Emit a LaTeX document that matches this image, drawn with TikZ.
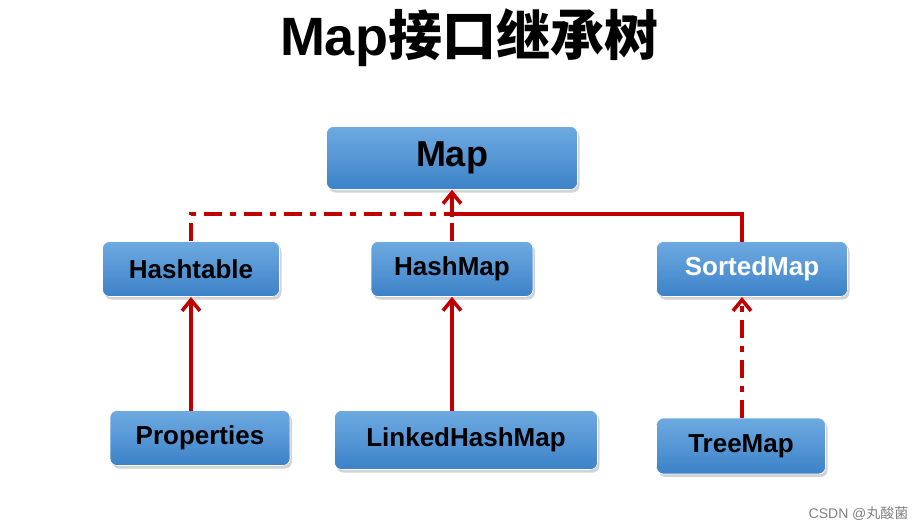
\documentclass[tikz,border=0pt]{standalone}
\usepackage{fontspec}
\setmainfont{Liberation Sans}
\newfontfamily\cjk{Noto Sans CJK SC}
\usetikzlibrary{arrows.meta,shadows}
\definecolor{lred}{RGB}{192,0,0}
\definecolor{bt}{RGB}{110,170,225}\definecolor{bb}{RGB}{60,130,200}
\begin{document}
\begin{tikzpicture}[x=1pt,y=-1pt,
 box/.style={draw=white,line width=0.6pt,rounded corners=7pt,top color=bt,bottom color=bb,
  drop shadow={shadow xshift=2pt,shadow yshift=-3pt,opacity=0.35},font=\bfseries\fontsize{26}{30}\selectfont,inner sep=0pt},
 ln/.style={draw=lred,line width=3.8pt},
 arr/.style={ln,-{Straight Barb[length=11pt,width=18pt,line width=3.6pt]}},
 dd/.style={dash pattern=on 18pt off 8pt on 6pt off 8pt}]
\useasboundingbox (0,0) rectangle (924,530);
\node[font=\bfseries\fontsize{54}{60}\selectfont] (title) at (469,38) {Map{\cjk 接口继承树}};
\node[box,minimum width=251,minimum height=63,font=\bfseries\fontsize{36}{40}\selectfont] (map) at (452,158) {Map};
\node[box,minimum width=177,minimum height=55] (ht) at (191,269) {Hashtable};
\node[box,minimum width=162,minimum height=55] (hm) at (452,269) {HashMap};
\node[box,minimum width=191,minimum height=55,text=white] (sm) at (752,269) {SortedMap};
\node[box,minimum width=180,minimum height=55] (pr) at (200,438) {Properties};
\node[box,minimum width=263,minimum height=59] (lhm) at (466,440) {LinkedHashMap};
\node[box,minimum width=169,minimum height=56] (tm) at (741,446) {TreeMap};
\coordinate (j) at (452,214);
\draw[ln,dd] (ht.north) |- (j);
\draw[ln,dash pattern=on 18pt off 6pt] (hm.north) -- (j);
\draw[ln] (742,242) |- (j);
\draw[arr] (j) -- (map.south);
\draw[arr] (191,411) -- (191,297);
\draw[arr] (452,411) -- (hm.south);
\draw[arr,dd] (742,418) -- (742,297);
\node[anchor=east,text=gray,font=\fontsize{14}{16}\selectfont] (wm) at (912,514) {CSDN @{\cjk 丸酸菌}};
\end{tikzpicture}
\end{document}
